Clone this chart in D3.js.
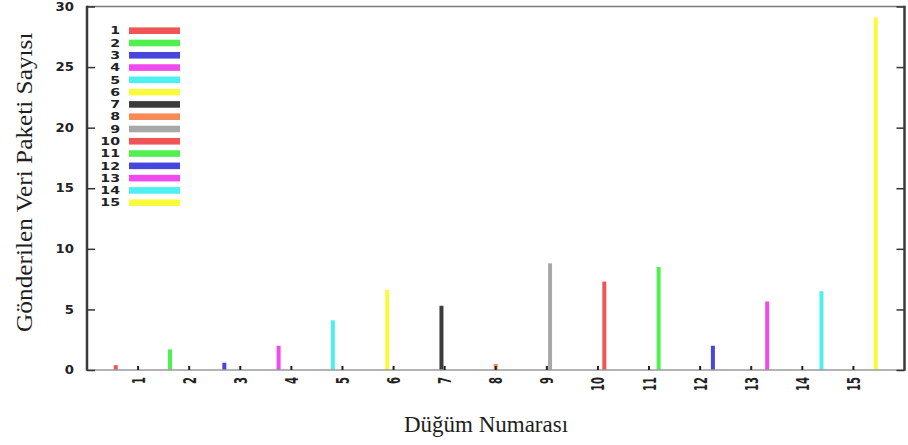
<!DOCTYPE html>
<html>
<head>
<meta charset="utf-8">
<script src="https://cdn.jsdelivr.net/npm/d3@7"></script>
<style>
  body { margin: 0; background: #fff; }
  svg { display: block; }
</style>
</head>
<body>
<div id="chart"></div>
<script>
// Width and height for the SVG element
const w = 908;
const h = 445;

// Chart data
const nodes = [1, 2, 3, 4, 5, 6, 7, 8, 9, 10, 11, 12, 13, 14, 15];
const packets = [0.4, 1.7, 0.6, 2.0, 4.1, 6.6, 5.3, 0.5, 8.8, 7.3, 8.5, 2.0, 5.65, 6.5, 29.1];
const colors = ["#f05454", "#4ff04f", "#4646dc", "#ee4aee", "#4cf0f0", "#fafa3c", "#3c3c3c", "#f78a55",
                "#a8a8a8", "#f05454", "#4ff04f", "#4646dc", "#ee4aee", "#4cf0f0", "#fafa3c"];
const yTicks = [0, 5, 10, 15, 20, 25, 30];

// Plot frame
const plotL = 87, plotR = 904.5, plotT = 6.5, plotB = 370;

const svg = d3.select("#chart")
    .append("svg")
    .attr("width", w)
    .attr("height", h);

// Scales
const xScale = d3.scaleLinear().domain([0, 16]).range([plotL, plotR]);
const yScale = d3.scaleLinear().domain([0, 30]).range([plotB, plotT]);
// offset of each series inside its cluster (gnuplot clustered histogram)
const offset = d3.scaleLinear().domain([1, 15]).range([-7 / 16, 7 / 16]);
const legendY = d3.scalePoint().domain(nodes).range([30.7, 202.7]);

// Bars
svg.selectAll("rect.bar")
    .data(nodes)
    .enter()
    .append("rect")
    .attr("class", "bar")
    .attr("x", d => xScale(d + offset(d)) - 2)
    .attr("width", 4)
    .attr("y", (d, i) => yScale(packets[i]))
    .attr("height", (d, i) => yScale(0) - yScale(packets[i]))
    .attr("fill", (d, i) => colors[i]);

// Frame lines
svg.append("line")
    .attr("x1", plotL).attr("x2", plotR).attr("y1", plotT).attr("y2", plotT)
    .attr("stroke", "#7a7a7a").attr("stroke-width", 1.5);
svg.append("line")
    .attr("x1", plotL).attr("x2", plotR).attr("y1", plotB).attr("y2", plotB)
    .attr("stroke", "#9a9a9a").attr("stroke-width", 1.5);

// Left axis, ticks pointing inside
const yAxisL = svg.append("g")
    .attr("transform", `translate(${plotL},0)`)
    .call(d3.axisRight(yScale).tickValues(yTicks).tickSize(8).tickFormat(""));
yAxisL.select(".domain").remove();
yAxisL.selectAll("line").attr("stroke", "#333").attr("stroke-width", 1.5);

// Right axis, ticks pointing inside
const yAxisR = svg.append("g")
    .attr("transform", `translate(${plotR},0)`)
    .call(d3.axisLeft(yScale).tickValues(yTicks).tickSize(8).tickFormat(""));
yAxisR.select(".domain").remove();
yAxisR.selectAll("line").attr("stroke", "#333").attr("stroke-width", 1.5);

svg.append("line")
    .attr("x1", plotL).attr("x2", plotL).attr("y1", plotT - 0.75).attr("y2", plotB + 0.75)
    .attr("stroke", "#3a3a3a").attr("stroke-width", 2.5);
svg.append("line")
    .attr("x1", plotR).attr("x2", plotR).attr("y1", plotT - 0.75).attr("y2", plotB + 0.75)
    .attr("stroke", "#3a3a3a").attr("stroke-width", 2.5);

// Y tick labels
svg.selectAll("text.ytick")
    .data(yTicks)
    .enter()
    .append("text")
    .attr("class", "ytick")
    .attr("transform", d => `translate(74,${yScale(d)}) scale(1.15,1)`)
    .attr("text-anchor", "end")
    .attr("dy", "0.36em")
    .attr("font-family", "DejaVu Sans")
    .attr("font-weight", "bold")
    .attr("font-size", "11.5px")
    .attr("fill", "#222")
    .text(d => d);

// X ticks (small inward marks) and rotated labels
svg.selectAll("line.xtick")
    .data(nodes)
    .enter()
    .append("line")
    .attr("class", "xtick")
    .attr("x1", d => xScale(d)).attr("x2", d => xScale(d))
    .attr("y1", plotB).attr("y2", plotB - 4)
    .attr("stroke", "#222").attr("stroke-width", 2);

svg.selectAll("text.xtick")
    .data(nodes)
    .enter()
    .append("text")
    .attr("class", "xtick")
    .attr("transform", d => `translate(${xScale(d)},377) scale(1.8,1) rotate(-90)`)
    .attr("text-anchor", "end")
    .attr("dy", "0.36em")
    .attr("font-family", "DejaVu Sans")
    .attr("font-weight", "bold")
    .attr("font-size", "10px")
    .attr("fill", "#222")
    .text(d => d);

// Legend
const legend = svg.selectAll("g.legend")
    .data(nodes)
    .enter()
    .append("g")
    .attr("class", "legend")
    .attr("transform", d => `translate(0,${legendY(d)})`);

legend.append("text")
    .attr("transform", "translate(120,0) scale(1.35,1)")
    .attr("text-anchor", "end")
    .attr("dy", "0.36em")
    .attr("font-family", "DejaVu Sans")
    .attr("font-weight", "bold")
    .attr("font-size", "10.5px")
    .attr("fill", "#222")
    .text(d => d);

legend.append("rect")
    .attr("x", 129)
    .attr("y", -3.3)
    .attr("width", 51)
    .attr("height", 6.6)
    .attr("fill", (d, i) => colors[i]);

// Axis titles
svg.append("text")
    .attr("transform", `translate(32,${(plotT + plotB) / 2 - 6}) rotate(-90) scale(1.1,1)`)
    .attr("text-anchor", "middle")
    .attr("font-family", "'Liberation Serif', serif")
    .attr("font-size", "23px")
    .attr("fill", "#1e1e1e")
    .text("Gönderilen Veri Paketi Sayısı");

svg.append("text")
    .attr("x", 486)
    .attr("y", 432)
    .attr("text-anchor", "middle")
    .attr("font-family", "'Liberation Serif', serif")
    .attr("font-size", "23px")
    .attr("fill", "#1e1e1e")
    .text("Düğüm Numarası");
</script>
</body>
</html>
